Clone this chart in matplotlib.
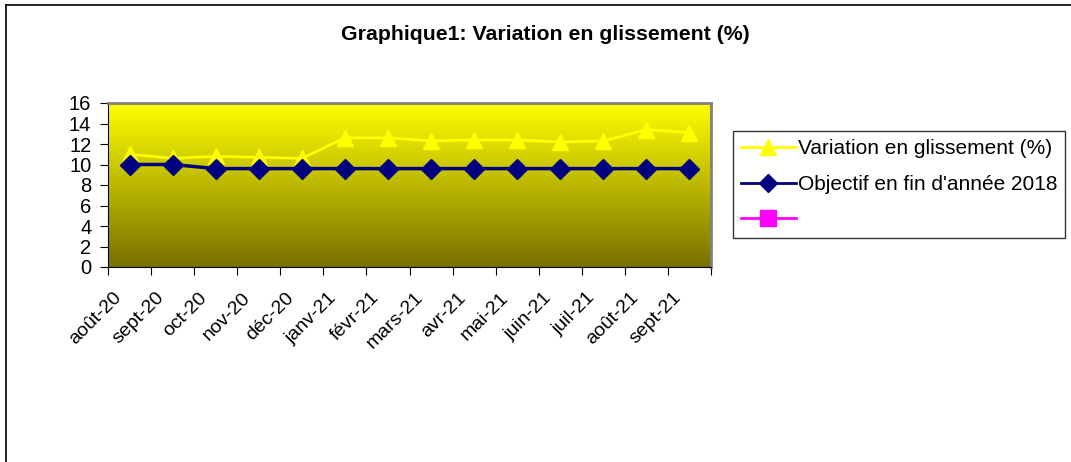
import matplotlib.pyplot as plt
import matplotlib.transforms as mtransforms
import numpy as np
from matplotlib.lines import Line2D

plt.rcParams['font.family'] = ['Liberation Sans', 'DejaVu Sans']

# données
mois = ['août-20', 'sept-20', 'oct-20', 'nov-20', 'déc-20', 'janv-21', 'févr-21',
        'mars-21', 'avr-21', 'mai-21', 'juin-21', 'juil-21', 'août-21', 'sept-21']
variation = [11.0, 10.6, 10.8, 10.7, 10.6, 12.6, 12.6, 12.3, 12.4, 12.4, 12.2, 12.3, 13.4, 13.1]
objectif = [10.0, 10.0, 9.6, 9.6, 9.6, 9.6, 9.6, 9.6, 9.6, 9.6, 9.6, 9.6, 9.6, 9.6]

fig = plt.figure(figsize=(10.71, 4.62), dpi=100)
ax = fig.add_axes([108/1071, 1-267/462, (711-108)/1071, (267-103)/462])

x = np.arange(len(mois))

# fond en dégradé jaune -> olive
grad = np.linspace(0, 1, 256).reshape(-1, 1)
top = np.array([1.0, 1.0, 0.0])
bot = np.array([0.47, 0.44, 0.0])
img = top * (1 - grad)[..., None] + bot * grad[..., None]
ax.imshow(img, extent=[-0.5, len(mois) - 0.5, 0, 16], aspect='auto', zorder=0)

ax.plot(x, variation, color='#FFFF00', lw=2, marker='^', ms=11, zorder=3)
ax.plot(x, objectif, color='#000080', lw=2.5, marker='D', ms=10, zorder=4)

ax.set_xlim(-0.5, len(mois) - 0.5)
ax.set_ylim(0, 16)
ax.set_yticks(range(0, 17, 2))
ax.tick_params(axis='y', labelsize=14.5, length=6, direction='out', pad=6)

ax.set_xticks(np.arange(-0.5, len(mois), 1))
ax.set_xticklabels([])
ax.tick_params(axis='x', which='major', length=6, direction='out')
ax.set_xticks(x, minor=True)
ax.set_xticklabels(mois, minor=True, rotation=45, ha='right', rotation_mode='anchor', fontsize=14)
ax.tick_params(axis='x', which='minor', length=0, pad=16)
decal = mtransforms.ScaledTranslation(-0.17, 0, fig.dpi_scale_trans)
for lab in ax.get_xticklabels(minor=True):
    lab.set_transform(lab.get_transform() + decal)

ax.spines['left'].set_color('black')
ax.spines['bottom'].set_color('black')
ax.spines['top'].set_color('#808080')
ax.spines['right'].set_color('#808080')
ax.spines['top'].set_linewidth(2)
ax.spines['right'].set_linewidth(2)

fig.text(545/1071, 1-35/462, 'Graphique1: Variation en glissement (%)', ha='center', va='center',
         fontsize=15.3, fontweight='bold')

handles = [
    Line2D([], [], color='#FFFF00', lw=2, marker='^', ms=11),
    Line2D([], [], color='#000080', lw=2, marker='D', ms=9),
    Line2D([], [], color='#FF00FF', lw=2, marker='s', ms=11),
]
labels = ['Variation en glissement (%)', "Objectif en fin d'année 2018", '']
leg = fig.legend(handles, labels, loc='upper left', bbox_to_anchor=(733/1071, 1-131/462),
                 fontsize=15, frameon=True, fancybox=False, edgecolor='black',
                 handlelength=2.6, handletextpad=0.1, borderaxespad=0, labelspacing=0.8,
                 borderpad=0.4)
leg.get_frame().set_linewidth(1)

# cadre du graphique
fig.add_artist(Line2D([6/1071, 1], [1-5/462, 1-5/462], color='black', lw=1.2))
fig.add_artist(Line2D([6/1071, 6/1071], [0, 1-5/462], color='black', lw=1.2))

plt.savefig('out.png', dpi=100)
